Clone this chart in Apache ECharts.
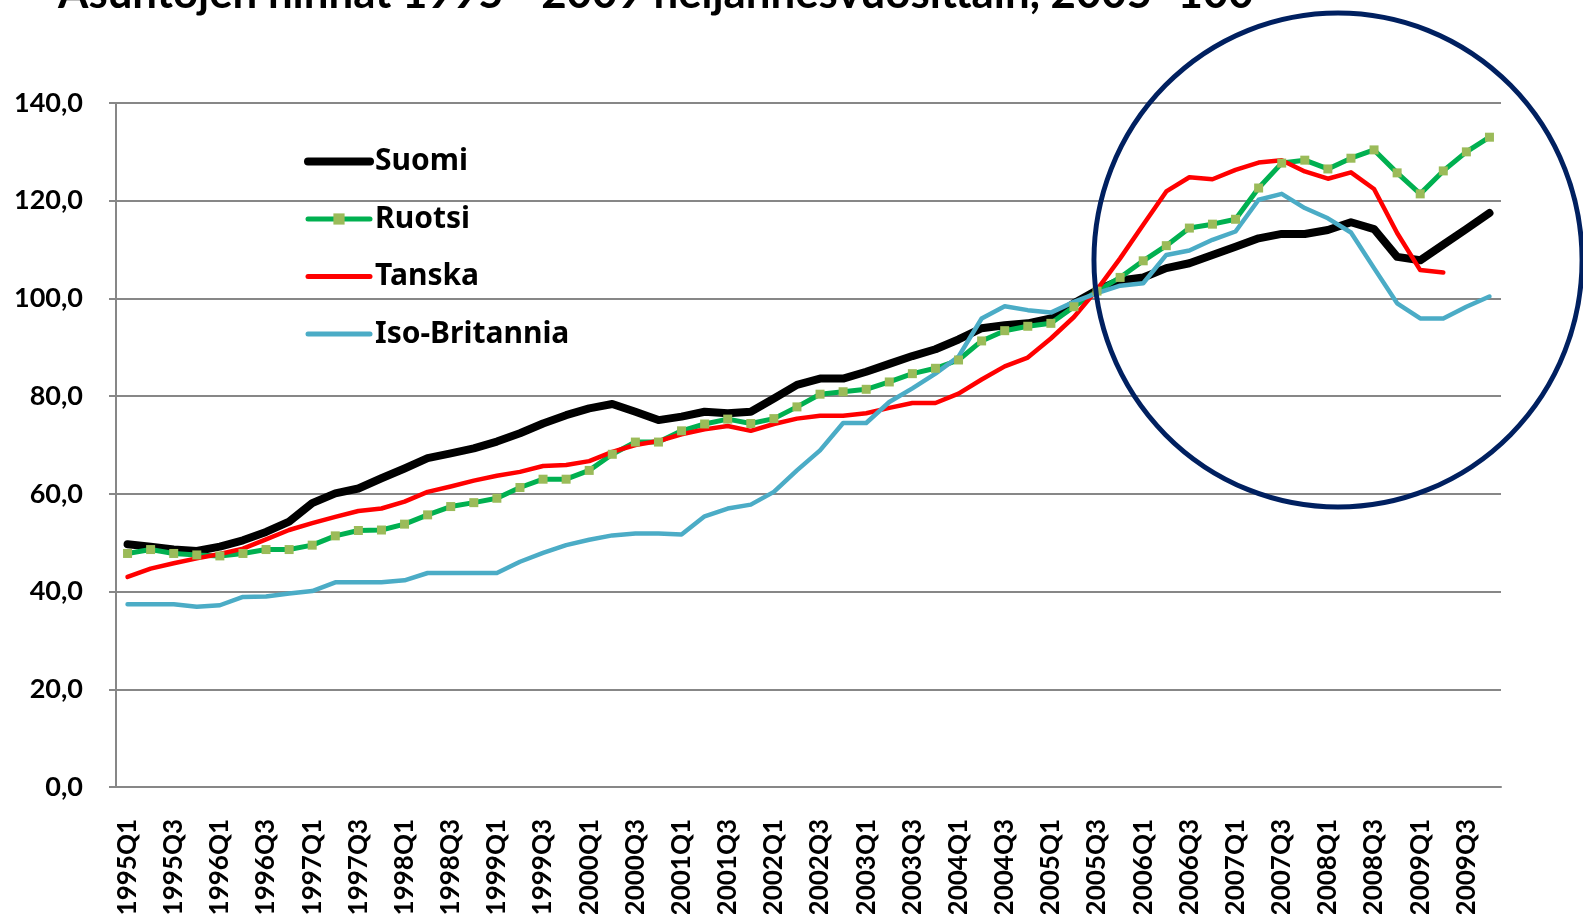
<!DOCTYPE html>
<html>
<head>
<meta charset="utf-8">
<script src="https://cdn.jsdelivr.net/npm/echarts@6/dist/echarts.min.js"></script>
<style>
  html, body { margin: 0; padding: 0; background: #fff; }
  #chart { width: 1583px; height: 914px; }
</style>
</head>
<body>
<div id="chart"></div>
<script>
// quarters 1995Q1 .. 2009Q4
const quarters = [
  '1995Q1', '1995Q2', '1995Q3', '1995Q4', '1996Q1', '1996Q2', '1996Q3', '1996Q4',
  '1997Q1', '1997Q2', '1997Q3', '1997Q4', '1998Q1', '1998Q2', '1998Q3', '1998Q4',
  '1999Q1', '1999Q2', '1999Q3', '1999Q4', '2000Q1', '2000Q2', '2000Q3', '2000Q4',
  '2001Q1', '2001Q2', '2001Q3', '2001Q4', '2002Q1', '2002Q2', '2002Q3', '2002Q4',
  '2003Q1', '2003Q2', '2003Q3', '2003Q4', '2004Q1', '2004Q2', '2004Q3', '2004Q4',
  '2005Q1', '2005Q2', '2005Q3', '2005Q4', '2006Q1', '2006Q2', '2006Q3', '2006Q4',
  '2007Q1', '2007Q2', '2007Q3', '2007Q4', '2008Q1', '2008Q2', '2008Q3', '2008Q4',
  '2009Q1', '2009Q2', '2009Q3', '2009Q4'
];

const suomi = [
  49.7, 49.2, 48.6, 48.3, 49.2, 50.5, 52.2, 54.3, 58.1, 60.1,
  61.1, 63.2, 65.2, 67.3, 68.3, 69.3, 70.7, 72.4, 74.4, 76.1,
  77.5, 78.4, 76.8, 75.1, 75.8, 76.8, 76.5, 76.8, 79.5, 82.3,
  83.6, 83.6, 85.0, 86.6, 88.2, 89.6, 91.6, 93.9, 94.5, 94.9,
  95.9, 99.0, 101.7, 103.7, 104.3, 106.2, 107.2, 108.9, 110.6, 112.3,
  113.2, 113.2, 114.0, 115.6, 114.2, 108.5, 107.8, 111.0, 114.2, 117.5
];

const ruotsi = [
  47.8, 48.6, 47.8, 47.5, 47.3, 47.8, 48.6, 48.6, 49.5, 51.4,
  52.5, 52.6, 53.8, 55.7, 57.4, 58.2, 59.1, 61.3, 63.0, 63.0,
  64.8, 68.1, 70.6, 70.6, 72.9, 74.3, 75.3, 74.4, 75.4, 77.8,
  80.4, 80.9, 81.4, 82.9, 84.6, 85.7, 87.4, 91.3, 93.4, 94.3,
  94.9, 98.3, 101.5, 104.3, 107.7, 110.8, 114.4, 115.2, 116.2, 122.6,
  127.7, 128.3, 126.5, 128.7, 130.4, 125.7, 121.4, 126.1, 130.0, 133.0
];

const tanska = [
  43.0, 44.7, 45.8, 46.8, 47.7, 48.8, 50.7, 52.6, 54.0, 55.3,
  56.5, 57.0, 58.4, 60.4, 61.5, 62.7, 63.7, 64.5, 65.7, 65.9,
  66.7, 68.6, 70.0, 70.8, 72.2, 73.2, 73.9, 72.9, 74.3, 75.4,
  76.0, 76.0, 76.5, 77.6, 78.6, 78.6, 80.5, 83.4, 86.1, 87.9,
  91.8, 96.2, 101.8, 108.2, 115.1, 121.9, 124.8, 124.4, 126.3, 127.8,
  128.3, 126.0, 124.5, 125.8, 122.4, 113.4, 105.8, 105.3, null, null
];

const isoBritannia = [
  37.4, 37.4, 37.4, 36.9, 37.2, 38.9, 39.0, 39.6, 40.1, 41.9,
  41.9, 41.9, 42.3, 43.8, 43.8, 43.8, 43.8, 46.1, 47.9, 49.5,
  50.6, 51.5, 51.9, 51.9, 51.7, 55.4, 57.0, 57.8, 60.4, 64.8,
  68.9, 74.5, 74.5, 78.8, 81.6, 84.6, 88.1, 95.9, 98.4, 97.6,
  97.1, 99.3, 101.1, 102.6, 103.1, 108.9, 109.8, 112.0, 113.7, 120.2,
  121.4, 118.5, 116.4, 113.5, 106.2, 99.0, 95.9, 95.9, 98.3, 100.4
];

const seriesNames = ['Suomi', 'Ruotsi', 'Tanska', 'Iso-Britannia'];
const titleText = 'Asuntojen hinnat 1995 - 2009 neljännesvuosittain, 2005=100';

const gridColor = '#878787';
const noSymbol = { opacity: 0 };

const chart = echarts.init(document.getElementById('chart'));

chart.setOption({
  animation: false,
  backgroundColor: '#fff',
  grid: {
    left: 116,
    right: 82,
    top: 103,
    bottom: 127,
    containLabel: false,
    outerBoundsMode: 'none'
  },
  legend: {
    orient: 'vertical',
    left: 304,
    top: 146,
    padding: 0,
    itemWidth: 62,
    itemHeight: 14,
    itemGap: 26.5,
    textStyle: {
      fontFamily: 'Noto Sans',
      fontWeight: 'bold',
      fontSize: 30,
      lineHeight: 31,
      color: '#000'
    },
    data: [
      { name: 'Suomi', itemStyle: noSymbol, lineStyle: { width: 8, cap: 'round' } },
      { name: 'Ruotsi', lineStyle: { width: 5, cap: 'round' } },
      { name: 'Tanska', itemStyle: noSymbol, lineStyle: { width: 5, cap: 'round' } },
      { name: 'Iso-Britannia', itemStyle: noSymbol, lineStyle: { width: 5, cap: 'round' } }
    ]
  },
  xAxis: {
    type: 'category',
    data: quarters,
    boundaryGap: true,
    axisLine: { lineStyle: { color: gridColor, width: 2 } },
    axisTick: { interval: 0, length: 9, lineStyle: { color: gridColor, width: 2 } },
    axisLabel: {
      interval: 1,
      rotate: 90,
      margin: 32,
      fontFamily: 'Lato',
      fontWeight: 'bold',
      fontSize: 26,
      color: '#000'
    },
    splitLine: { show: false }
  },
  yAxis: {
    type: 'value',
    min: 0,
    max: 140,
    interval: 20,
    axisLine: { show: true, lineStyle: { color: gridColor, width: 2 } },
    axisTick: { show: true, length: 7, lineStyle: { color: gridColor, width: 2 } },
    axisLabel: {
      margin: 33,
      fontFamily: 'Lato',
      fontWeight: 'bold',
      fontSize: 27,
      color: '#000',
      formatter: v => v.toFixed(1).replace('.', ',')
    },
    splitLine: { lineStyle: { color: gridColor, width: 2 } }
  },
  series: [
    {
      name: seriesNames[0],
      type: 'line',
      data: suomi,
      symbol: 'none',
      lineStyle: { color: '#000000', width: 8, cap: 'round', join: 'round' },
      itemStyle: { color: '#000000' }
    },
    {
      name: seriesNames[1],
      type: 'line',
      data: ruotsi,
      symbol: 'rect',
      symbolSize: 9,
      lineStyle: { color: '#00B050', width: 5, join: 'round' },
      itemStyle: { color: '#9BBB59' }
    },
    {
      name: seriesNames[2],
      type: 'line',
      data: tanska,
      symbol: 'none',
      lineStyle: { color: '#FF0000', width: 4.5, cap: 'round', join: 'round' },
      itemStyle: { color: '#FF0000' }
    },
    {
      name: seriesNames[3],
      type: 'line',
      data: isoBritannia,
      symbol: 'none',
      lineStyle: { color: '#4BACC6', width: 4.5, cap: 'round', join: 'round' },
      itemStyle: { color: '#4BACC6' }
    }
  ],
  graphic: [
    {
      type: 'text',
      x: 58,
      y: -6.5,
      z: 50,
      style: {
        text: titleText,
        font: 'bold 43.8px "Lato"',
        fill: '#000',
        verticalAlign: 'middle'
      }
    },
    {
      type: 'circle',
      z: 100,
      x: 1338,
      y: 260,
      scaleX: 0.988,
      shape: { cx: 0, cy: 0, r: 247 },
      style: { fill: 'none', stroke: '#002060', lineWidth: 5 }
    }
  ]
});
</script>
</body>
</html>
